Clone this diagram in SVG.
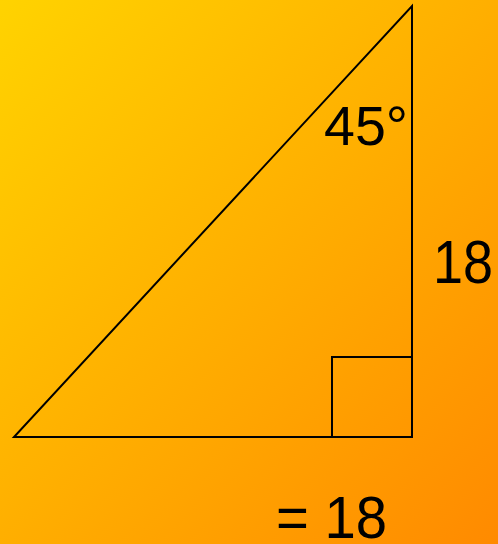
<svg xmlns="http://www.w3.org/2000/svg" width="498" height="544" viewBox="0 0 498 544">
<defs>
<linearGradient id="bg" x1="0" y1="0" x2="1" y2="1">
<stop offset="0" stop-color="#FFD300"/>
<stop offset="1" stop-color="#FF8A00"/>
</linearGradient>
<style>
.ln{fill:none;stroke:#000;stroke-width:2}
.t{font-family:"Comic Sans MS","Liberation Sans",Arial,sans-serif;fill:#000}
</style>
</defs>
<rect width="498" height="544" fill="url(#bg)"/>
<g id="triangle">
<polygon class="ln" points="14,437 412,437 412,6"/>
<rect class="ln" x="332" y="357" width="80" height="80"/>
</g>
<g id="labels">
<text class="t" x="408" y="145" font-size="55" text-anchor="end" textLength="84" lengthAdjust="spacingAndGlyphs">45°</text>
<text class="t" x="493" y="283" font-size="62" text-anchor="end" textLength="60" lengthAdjust="spacingAndGlyphs">18</text>
<text class="t" x="387" y="538" font-size="60" text-anchor="end" textLength="111" lengthAdjust="spacingAndGlyphs">= 18</text>
</g>
</svg>
